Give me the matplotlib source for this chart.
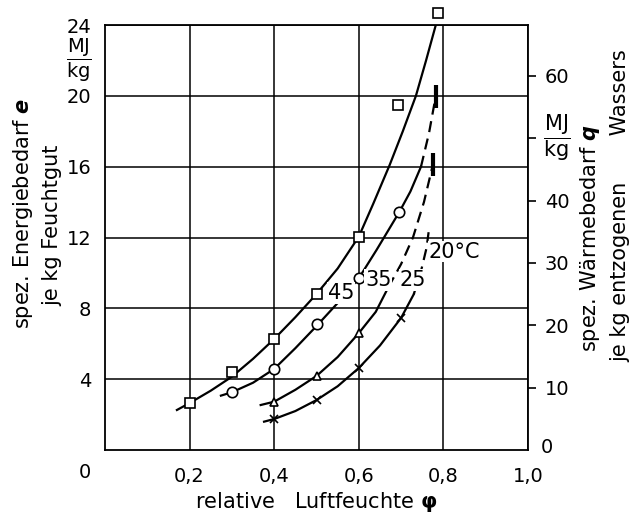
import numpy as np
import matplotlib
matplotlib.use("Agg")
import matplotlib.pyplot as plt

plt.rcParams['font.family'] = ['DejaVu Sans']

# Messpunkte (relative Luftfeuchte, Energiebedarf e in MJ/kg)
phi_45 = [0.2, 0.3, 0.4, 0.5, 0.6, 0.693, 0.787]
e_45 = [2.65, 4.42, 6.27, 8.81, 12.05, 19.5, 24.7]
phi_35 = [0.3, 0.4, 0.5, 0.6, 0.696]
e_35 = [3.26, 4.58, 7.12, 9.7, 13.45]
phi_25 = [0.4, 0.5, 0.6]
e_25 = [2.73, 4.18, 6.6]
phi_20 = [0.4, 0.5, 0.6, 0.7]
e_20 = [1.75, 2.82, 4.63, 7.46]

# Ausgleichskurven (durchgezogen / gestrichelt)
curve_45_x = [0.17, 0.2, 0.25, 0.3, 0.35, 0.4, 0.45, 0.5, 0.55, 0.6, 0.634,
              0.673, 0.704, 0.735, 0.759, 0.782]
curve_45_y = [2.26, 2.65, 3.35, 4.14, 5.15, 6.27, 7.5, 8.81, 10.25, 12.05,
              13.9, 16.1, 18.0, 20.0, 22.0, 24.0]
curve_35_x = [0.274, 0.3, 0.35, 0.4, 0.45, 0.5, 0.55, 0.6, 0.642, 0.696,
              0.722, 0.747]
curve_35_y = [3.07, 3.26, 3.8, 4.58, 5.75, 7.0, 8.3, 9.7, 11.3, 13.45, 14.6,
              16.0]
dash_35_x = [0.747, 0.766, 0.782]
dash_35_y = [16.0, 17.9, 20.0]
curve_25_x = [0.368, 0.4, 0.45, 0.5, 0.55, 0.6, 0.64, 0.67]
curve_25_y = [2.54, 2.73, 3.4, 4.18, 5.25, 6.6, 7.8, 9.2]
dash_25_x = [0.67, 0.7, 0.728, 0.754, 0.776]
dash_25_y = [9.2, 10.5, 12.0, 14.0, 16.2]
curve_20_x = [0.376, 0.4, 0.45, 0.5, 0.55, 0.6, 0.65, 0.7, 0.73]
curve_20_y = [1.6, 1.75, 2.2, 2.82, 3.6, 4.63, 5.9, 7.46, 8.8]
dash_20_x = [0.73, 0.748, 0.76, 0.765]
dash_20_y = [8.8, 10.2, 11.4, 12.3]

x_ticks = [0.2, 0.4, 0.6, 0.8, 1.0]
x_labels = ["0,2", "0,4", "0,6", "0,8", "1,0"]
e_ticks = [4, 8, 12, 16, 20, 24]
q_ticks = [10, 20, 30, 40, 50, 60]
q_labels = ["10", "20", "30", "40", "", "60"]
q_per_e = 2.84  # Umrechnung e -> q

fig = plt.figure(figsize=(6.38, 5.17), dpi=100)
ax = fig.add_axes([0.1646, 0.1296, 0.663, 0.822])
ax.set_xlim(0, 1.0)
ax.set_ylim(0, 24)

lw = 1.6
dash = (0, (5, 3))
ax.plot(curve_45_x, curve_45_y, color="black", lw=lw)
ax.plot(curve_35_x, curve_35_y, color="black", lw=lw)
ax.plot(dash_35_x, dash_35_y, color="black", lw=lw, ls=dash)
ax.plot(curve_25_x, curve_25_y, color="black", lw=lw)
ax.plot(dash_25_x, dash_25_y, color="black", lw=lw, ls=dash)
ax.plot(curve_20_x, curve_20_y, color="black", lw=lw)
ax.plot(dash_20_x, dash_20_y, color="black", lw=lw, ls=dash)

# dicke Endmarken der gestrichelten Kurven
for xs, ys in [(dash_35_x, dash_35_y), (dash_25_x, dash_25_y)]:
    ax.plot([xs[-1], xs[-1]], [ys[-1] - 0.7, ys[-1] + 0.6], color="black",
            lw=3, solid_capstyle="butt")

ax.plot(phi_45, e_45, ls="none", marker="s", ms=7.5, mfc="white", mec="black",
        mew=1.2, clip_on=False, zorder=5)
ax.plot(phi_35, e_35, ls="none", marker="o", ms=7.5, mfc="white", mec="black",
        mew=1.2, zorder=5)
ax.plot(phi_25, e_25, ls="none", marker="^", ms=6, mfc="white", mec="black",
        mew=1.2, zorder=5)
ax.plot(phi_20, e_20, ls="none", marker="x", ms=6, color="black",
        mew=1.2, zorder=5)

# Kurvenbeschriftung
for txt, x, y in [("45", 0.558, 8.87), ("35", 0.646, 9.6),
                  ("25", 0.727, 9.6), ("20°C", 0.826, 11.2)]:
    ax.text(x, y, txt, fontsize=15, ha="center", va="center", zorder=6,
            bbox=dict(facecolor="white", edgecolor="none", pad=0.5))

ax.set_xticks(x_ticks)
ax.set_xticklabels(x_labels, fontsize=14)
ax.set_yticks(e_ticks)
ax.set_yticklabels([str(t) for t in e_ticks], fontsize=14)
ax.tick_params(axis="x", length=0, pad=12)
ax.tick_params(axis="y", length=0, pad=10)
ax.grid(True, color="black", lw=1.1)
for s in ax.spines.values():
    s.set_linewidth(1.3)
ax.text(-0.047, -0.054, "0", transform=ax.transAxes, fontsize=14,
        ha="center", va="center")

fig.text(0.124, 0.884, r"$\dfrac{\mathrm{MJ}}{\mathrm{kg}}$", fontsize=14,
         ha="center", va="center")
fig.text(0.036, 0.588, r"spez. Energiebedarf $\boldsymbol{e}$", rotation=90,
         fontsize=15, ha="center", va="center")
fig.text(0.082, 0.565, "je kg Feuchtgut", rotation=90, fontsize=15,
         ha="center", va="center")
ax.set_xlabel(r"relative   Luftfeuchte $\boldsymbol{\varphi}$", fontsize=15,
              labelpad=3)

ax2 = ax.twinx()
ax2.set_ylim(0, 24 * q_per_e)
ax2.set_yticks(q_ticks)
ax2.set_yticklabels(q_labels, fontsize=14)
ax2.tick_params(axis="y", direction="out", length=6, width=1.2, pad=6)
for s in ax2.spines.values():
    s.set_visible(False)
fig.text(0.873, 0.734, r"$\dfrac{\mathrm{MJ}}{\mathrm{kg}}$", fontsize=15,
         ha="center", va="center")
fig.text(0.848, 0.135, "0", fontsize=14, ha="left", va="center")
fig.text(0.925, 0.539, r"spez. Wärmebedarf $\boldsymbol{q}$", rotation=90,
         fontsize=15, ha="center", va="center")
fig.text(0.972, 0.603, "je kg entzogenen       Wassers", rotation=90,
         fontsize=15, ha="center", va="center")

fig.savefig("out.png", dpi=100)
